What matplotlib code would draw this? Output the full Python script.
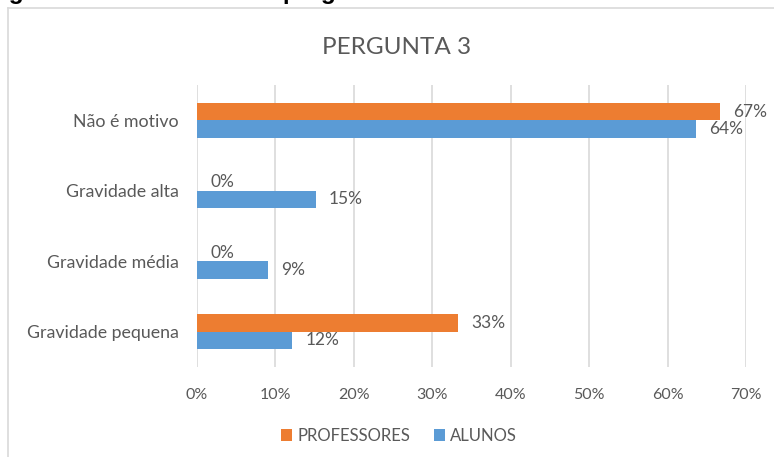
import matplotlib
matplotlib.use("Agg")
import matplotlib.pyplot as plt
from matplotlib.lines import Line2D
import numpy as np

categories = ["Não é motivo", "Gravidade alta", "Gravidade média", "Gravidade pequena"]
professores = [2/3, 0.0, 0.0, 1/3]
alunos = [21/33, 5/33, 3/33, 4/33]
xticks = [0, 0.1, 0.2, 0.3, 0.4, 0.5, 0.6, 0.7]
xticklabels = ["0%", "10%", "20%", "30%", "40%", "50%", "60%", "70%"]
series_names = ["PROFESSORES", "ALUNOS"]
title = "PERGUNTA 3"
caption = "Figura 6 – Resultados da pergunta 3: monitores não tiram as dúvidas"

ORANGE = "#ED7D31"
BLUE = "#5B9BD5"
TXT = "#595959"
GRID = "#D9D9D9"

plt.rcParams['font.family'] = ['Lato', 'DejaVu Sans']

W, H = 774, 457
fig = plt.figure(figsize=(W/100, H/100), dpi=100)

# frame lines from the document screenshot
fig.add_artist(Line2D([8/W, 1], [1 - 8/H, 1 - 8/H], color=GRID, lw=1.2, transform=fig.transFigure))
fig.add_artist(Line2D([8/W, 8/W], [0, 1 - 8/H], color=GRID, lw=1.2, transform=fig.transFigure))
# caption of the document, cut by the top edge as in the screenshot
fig.text(-13/W, 1 + 0.5/H, caption, fontsize=17.6, fontweight='bold', color='black',
         va='baseline', ha='left', family=['Liberation Sans', 'DejaVu Sans'])

ax = fig.add_axes([197/W, 1 - 367/H, (746 - 197)/W, (367 - 85)/H])
y = np.arange(len(categories))
h = 0.245
ax.barh(y - h/2, professores, height=h, color=ORANGE, label=series_names[0], zorder=3)
ax.barh(y + h/2, alunos, height=h, color=BLUE, label=series_names[1], zorder=3)

for yi, v in zip(y, professores):
    ax.annotate(f"{round(v*100):.0f}%", (v, yi - h/2), xytext=(9.5, 0), textcoords='offset points',
                va='center', ha='left', fontsize=12.5, color=TXT)
for yi, v in zip(y, alunos):
    ax.annotate(f"{round(v*100):.0f}%", (v, yi + h/2), xytext=(9.5, 0), textcoords='offset points',
                va='center', ha='left', fontsize=12.5, color=TXT)

ax.set_ylim(3.5, -0.5)
ax.set_xlim(0, 0.7)
ax.set_yticks(y)
ax.set_yticklabels(categories, fontsize=12.8, color=TXT)
ax.set_xticks(xticks)
ax.set_xticklabels(xticklabels, fontsize=11.5, color=TXT)
ax.tick_params(axis='both', length=0)
ax.tick_params(axis='x', pad=15)
ax.tick_params(axis='y', pad=13)
ax.grid(axis='x', color=GRID, lw=1.2, zorder=0)
for s in ax.spines.values():
    s.set_visible(False)

fig.text(397/W, 1 - 47/H, title, ha='center', va='center', fontsize=17.5, color=TXT)

handles, labels = ax.get_legend_handles_labels()
fig.legend(handles, labels, loc='center', bbox_to_anchor=(399/W, 1 - 436/H), ncol=2,
           frameon=False, fontsize=12, labelcolor=TXT, handlelength=0.7, handleheight=0.7,
           handletextpad=0.3, columnspacing=1.4)

fig.savefig("out.png", dpi=100)
